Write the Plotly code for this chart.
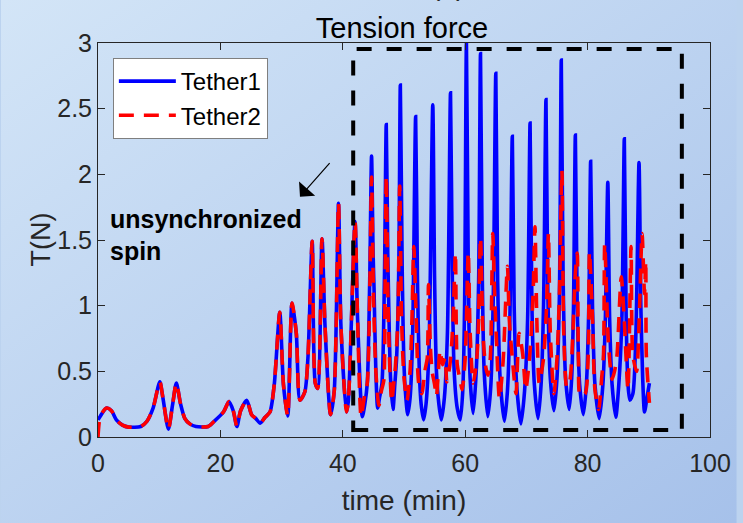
import base64
import plotly.graph_objects as go

# ---------------- data ----------------
# shared part of both tethers (curves coincide up to ~42 min)
common_t = [0.4, 1.4, 2.2, 3.0, 4.0, 5.0, 7.0, 8.0, 9.0, 10.1, 10.6, 11.5, 12.2, 12.8, 13.5,
            14.2, 15.0, 16.0, 18.0, 19.0, 20.5, 21.4, 22.1, 22.7, 23.3, 24.3, 25.1, 25.8, 26.5,
            27.3, 28.1, 28.8, 29.7, 30.3, 31.0, 31.7, 32.4, 33.0, 33.8, 34.3, 35.0, 35.5, 35.9,
            36.6, 37.1, 38.0, 38.6, 39.3, 39.7, 40.6, 40.9, 42.0, 42.4]
common_T = [0.16, 0.22, 0.2, 0.13, 0.09, 0.075, 0.08, 0.12, 0.22, 0.42, 0.3, 0.06, 0.25, 0.41, 0.25,
            0.14, 0.1, 0.08, 0.08, 0.12, 0.19, 0.27, 0.2, 0.08, 0.2, 0.28, 0.17, 0.14, 0.105,
            0.15, 0.19, 0.4, 0.95, 0.4, 0.16, 1.02, 0.79, 0.28, 0.345, 0.6, 1.49, 0.41, 0.37,
            1.51, 0.84, 0.17, 0.35, 1.78, 0.84, 0.19, 0.27, 1.64, 0.92]

tether1_start_t = [0.0]
tether1_start_T = [0.13]
tether2_start_t = [0.0]
tether2_start_T = [0.0]

tether1_late_t = [43.2, 43.6, 44.0, 44.4, 44.7, 44.95, 45.1, 45.4, 45.7, 46.0, 46.4, 46.8, 47.1, 47.35,
                  47.5, 47.8, 48.2, 48.5, 48.8, 49.15, 49.4, 49.7, 50.0, 50.3, 50.6, 51.0, 51.4, 51.9,
                  52.2, 52.5, 52.8, 53.2, 53.6, 54.1, 54.7, 55.0, 55.3, 55.7, 56.1, 56.6, 57.1, 57.6,
                  57.9, 58.2, 58.7, 59.2, 59.6, 59.9, 60.2, 60.5, 60.8, 61.3, 61.8, 62.2, 62.5, 62.8,
                  63.1, 63.7, 64.2, 64.6, 65.0, 65.3, 65.7, 66.4, 66.9, 67.3, 67.7, 68.0, 68.4, 69.1,
                  69.7, 70.2, 70.6, 70.9, 71.3, 71.9, 72.4, 72.8, 73.2, 73.5, 73.9, 74.5, 75.0, 75.4,
                  75.7, 76.0, 76.4, 77.0, 77.4, 77.7, 78.0, 78.3, 78.7, 79.3, 79.8, 80.2, 80.5, 80.8,
                  81.2, 81.9, 82.5, 82.9, 83.3, 83.6, 84.0, 84.6, 85.1, 85.6, 86.0, 86.3, 86.6, 86.9,
                  87.4, 87.9, 88.4, 88.7, 89.0, 89.3, 89.7, 90.1]
tether1_late_T = [0.155, 0.25, 0.41, 1.2, 2.14, 1.4, 1.14, 0.5, 0.22, 0.3, 0.41, 1.2, 2.38, 1.4,
                  1.02, 0.45, 0.21, 0.4, 0.61, 1.3, 2.68, 1.3, 0.55, 0.3, 0.17, 0.3, 0.75, 2.44,
                  1.2, 0.5, 0.25, 0.13, 0.25, 0.7, 2.53, 1.2, 0.5, 0.25, 0.13, 0.3, 0.8, 2.62,
                  1.2, 0.5, 0.22, 0.13, 0.35, 1.0, 3.0, 1.3, 0.45, 0.18, 0.5, 1.2, 2.92, 1.2,
                  0.5, 0.155, 0.4, 1.1, 2.77, 1.2, 0.45, 0.12, 0.35, 0.9, 2.29, 1.0, 0.4, 0.10,
                  0.35, 0.9, 2.39, 1.0, 0.4, 0.14, 0.4, 1.0, 2.57, 1.1, 0.45, 0.2, 0.45, 1.1,
                  2.87, 1.2, 0.45, 0.21, 0.45, 1.0, 2.30, 1.0, 0.4, 0.17, 0.4, 1.0, 2.10, 1.0,
                  0.4, 0.14, 0.4, 0.9, 1.94, 0.9, 0.4, 0.15, 0.4, 0.9, 2.27, 0.9, 0.4, 0.28,
                  0.33, 0.8, 2.09, 1.0, 0.45, 0.19, 0.3, 0.41]

tether2_late_t = [43.0, 43.5, 44.0, 44.4, 44.7, 45.0, 45.4, 45.9, 46.3, 46.7, 46.9, 47.1, 47.4, 47.7,
                  48.0, 48.3, 48.6, 49.0, 49.3, 49.6, 50.0, 50.5, 51.0, 51.3, 51.6, 52.0, 52.4, 52.9,
                  53.4, 53.8, 54.0, 54.3, 54.6, 55.0, 55.3, 55.9, 56.3, 56.7, 57.0, 57.5, 57.8, 58.1,
                  58.4, 58.7, 59.1, 59.5, 60.0, 60.5, 60.8, 61.3, 61.8, 62.1, 62.5, 62.9, 63.3, 63.7,
                  64.1, 64.5, 64.8, 65.1, 65.6, 66.2, 66.9, 67.2, 67.7, 68.3, 68.8, 69.4, 69.9, 70.4,
                  70.7, 71.1, 71.4, 71.7, 72.1, 72.8, 73.3, 73.6, 73.9, 74.5, 75.0, 75.4, 75.8, 76.1,
                  76.6, 77.1, 77.6, 78.0, 78.3, 78.5, 78.8, 79.6, 80.1, 80.3, 80.8, 81.2, 81.8, 82.3,
                  82.6, 82.8, 83.4, 84.0, 84.4, 84.8, 85.5, 86.0, 86.6, 87.1, 87.4, 88.0, 88.5, 88.9,
                  89.3, 89.5, 89.6, 90.1]
tether2_late_T = [0.155, 0.3, 0.41, 1.1, 1.98, 1.1, 0.5, 0.24, 0.35, 0.43, 1.1, 1.99, 1.0, 0.5,
                  0.27, 0.4, 0.54, 0.9, 1.91, 0.9, 0.45, 0.28, 0.51, 0.9, 1.45, 0.9, 0.41, 0.33,
                  0.5, 0.6, 1.16, 0.7, 0.5, 0.4, 0.31, 0.66, 0.55, 0.6, 0.42, 0.55, 0.71, 1.0,
                  1.40, 0.55, 0.45, 0.36, 0.6, 1.41, 0.8, 0.41, 0.55, 0.76, 1.52, 0.8, 0.55, 0.47,
                  0.6, 1.55, 1.1, 0.75, 0.29, 0.58, 1.30, 0.9, 0.6, 0.33, 0.79, 0.63, 0.36, 0.55,
                  0.72, 1.1, 1.60, 0.9, 0.41, 0.6, 1.0, 1.55, 0.8, 0.33, 0.6, 1.1, 2.03, 0.8,
                  0.38, 0.43, 0.8, 1.25, 1.40, 0.6, 0.31, 0.33, 0.62, 1.41, 0.9, 0.36, 0.21, 0.45,
                  0.63, 1.47, 0.72, 0.44, 0.5, 0.62, 1.22, 0.88, 0.36, 1.45, 0.62, 0.5, 1.0, 1.55,
                  1.09, 1.34, 0.62, 0.26]

tether1_t = tether1_start_t + common_t + tether1_late_t
tether1_T = tether1_start_T + common_T + tether1_late_T
tether2_t = tether2_start_t + common_t + tether2_late_t
tether2_T = tether2_start_T + common_T + tether2_late_T

series_names = ["Tether1", "Tether2"]
x_ticks = [0, 20, 40, 60, 80, 100]
y_ticks = [0, 0.5, 1, 1.5, 2, 2.5, 3]
y_tick_text = ["0", "0.5", "1", "1.5", "2", "2.5", "3"]
box_t = [41.7, 95.4]       # dashed region (time)
box_T = [0.053, 2.955]     # dashed region (tension)
note_lines = ["unsynchronized", "spin"]
note_x = 1.6
note_y = [1.66, 1.42]
arrow_tip = [33.0, 1.83]

# ---------------- figure ----------------
W, H = 743, 523
ML, MR, MT, MB = 98, 27, 43, 86
PW, PH = W - ML - MR, H - MT - MB

FONT = "Liberation Sans, Arial, sans-serif"
INK = "#262626"

svg = ('<svg xmlns="http://www.w3.org/2000/svg" width="743" height="523">'
       '<defs><linearGradient id="g" x1="0" y1="0" x2="1" y2="1">'
       '<stop offset="0" stop-color="#d3e5f7"/><stop offset="1" stop-color="#a6c1ea"/>'
       '</linearGradient></defs><rect width="743" height="523" fill="url(#g)"/></svg>')
bg_uri = "data:image/svg+xml;base64," + base64.b64encode(svg.encode()).decode()

fig = go.Figure()
fig.add_trace(go.Scatter(x=tether1_t, y=tether1_T, mode="lines", name=series_names[0],
                         line=dict(color="#0000ff", width=3.6, shape="spline", smoothing=0.7)))
fig.add_trace(go.Scatter(x=tether2_t, y=tether2_T, mode="lines", name=series_names[1],
                         line=dict(color="#ff0000", width=3.6, dash="15px,10px",
                                   shape="spline", smoothing=0.7)))

fig.add_shape(type="rect", xref="x", yref="y", x0=box_t[0], x1=box_t[1], y0=box_T[0], y1=box_T[1],
              line=dict(color="black", width=4, dash="15px,15px"), fillcolor="rgba(0,0,0,0)")

for line_text, yv in zip(note_lines, note_y):
    fig.add_annotation(x=note_x, y=yv, xref="x", yref="y", text="<b>" + line_text + "</b>",
                       showarrow=False, xanchor="left", yanchor="middle", align="left",
                       font=dict(family=FONT, size=25, color="black"))
fig.add_annotation(x=arrow_tip[0], y=arrow_tip[1], xref="x", yref="y", text="",
                   showarrow=True, ax=31, ay=-35, arrowhead=1, arrowsize=3, arrowwidth=1.2,
                   arrowcolor="black")
# partially visible label above the title (cut off by the figure edge)
fig.add_annotation(x=(451 - ML) / PW, y=(PH + MT + 14) / PH, xref="paper", yref="paper",
                   text="(b)", showarrow=False, xanchor="center", yanchor="middle",
                   font=dict(family=FONT, size=28, color=INK))
# y axis title (placed as text to match the reference position)
fig.add_annotation(x=(40 - ML) / PW, y=0.5, xref="paper", yref="paper", text="T(N)",
                   textangle=-90, showarrow=False, xanchor="center", yanchor="middle",
                   font=dict(family=FONT, size=27, color=INK))

fig.add_layout_image(dict(source=bg_uri, xref="paper", yref="paper",
                          x=-ML / PW, y=1 + MT / PH, sizex=W / PW, sizey=H / PH,
                          xanchor="left", yanchor="top", sizing="stretch", layer="below"))

axis_common = dict(showgrid=False, zeroline=False, showline=True, linecolor=INK, linewidth=1,
                   mirror="ticks", ticks="inside", ticklen=7, tickwidth=1, tickcolor=INK,
                   tickfont=dict(family=FONT, size=25, color=INK))

fig.update_layout(
    width=W, height=H,
    margin=dict(l=ML, r=MR, t=MT, b=MB, pad=0),
    paper_bgcolor="#bcd3ef", plot_bgcolor="white",
    title=dict(text="Tension force", x=(405 - ML) / PW, xref="paper", xanchor="center",
               y=1 - 28 / H, yref="container", yanchor="middle",
               font=dict(family=FONT, size=29, color="black")),
    xaxis=dict(axis_common, range=[0, 100], tickvals=x_ticks, ticklabelstandoff=4,
               title=dict(text="time (min)", font=dict(family=FONT, size=28, color=INK), standoff=14)),
    yaxis=dict(axis_common, range=[0, 3], tickvals=y_ticks, ticktext=y_tick_text),
    legend=dict(x=(113 - ML) / PW, y=(437 - 58) / PH, xanchor="left", yanchor="top",
                bgcolor="white", bordercolor="#7f7f7f", borderwidth=1,
                font=dict(family=FONT, size=24, color="black"), itemwidth=57,
                tracegroupgap=0),
    showlegend=True,
)

fig.write_html("out.html")
